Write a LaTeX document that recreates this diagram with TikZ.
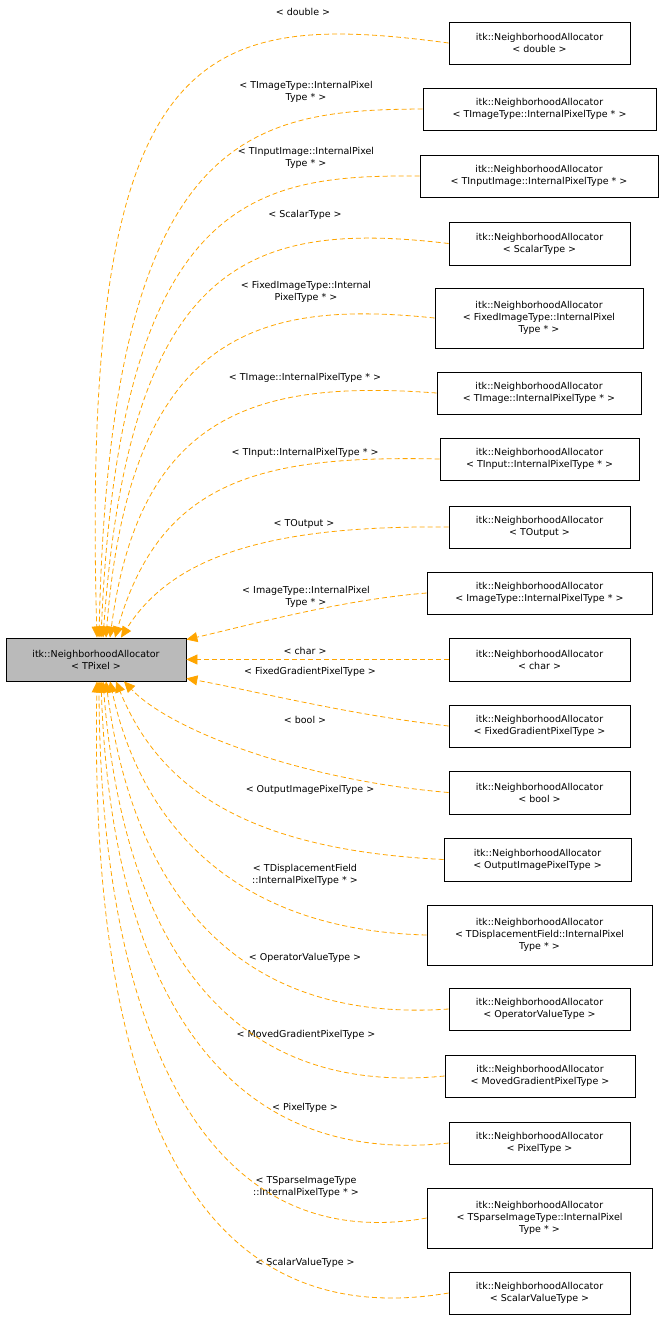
\documentclass[tikz,border=0pt]{standalone}
\usepackage{fontspec}
\setmainfont{DejaVu Sans}
\usetikzlibrary{arrows.meta}
\definecolor{edgeor}{RGB}{255,165,0}
\begin{document}
\begin{tikzpicture}[x=1pt,y=-1pt,
 box/.style={draw=black,line width=0.8pt,fill=white,align=center,inner sep=0pt,font=\fontsize{9.5}{12}\selectfont},
 lbl/.style={align=center,font=\fontsize{9.5}{12}\selectfont,inner sep=0pt},
 arr/.style={draw=edgeor,line width=0.8pt,dash pattern=on 5pt off 3pt,-{Triangle[length=11pt,width=10pt,fill=edgeor]}}]
\useasboundingbox (0,0) rectangle (664,1327);
\node[box,fill=black!27,minimum width=180pt,minimum height=43pt] (L) at (96,659.5) {itk::NeighborhoodAllocator\\< TPixel >};
\newcommand\rb[6]{\node[box,minimum width=#3pt,minimum height=#4pt] (#1) at (#2) {#5};}
\rb{r1}{539.5,43}{181}{42}{itk::NeighborhoodAllocator\\< double >}{}
\rb{r2}{539.5,109}{233}{42}{itk::NeighborhoodAllocator\\< TImageType::InternalPixelType * >}{}
\rb{r3}{539,176}{238}{42}{itk::NeighborhoodAllocator\\< TInputImage::InternalPixelType * >}{}
\rb{r4}{539.5,243.5}{181}{43}{itk::NeighborhoodAllocator\\< ScalarType >}{}
\rb{r5}{539,318}{208}{60}{itk::NeighborhoodAllocator\\< FixedImageType::InternalPixel\\Type * >}{}
\rb{r6}{539,393}{204}{42}{itk::NeighborhoodAllocator\\< TImage::InternalPixelType * >}{}
\rb{r7}{539.5,459}{199}{42}{itk::NeighborhoodAllocator\\< TInput::InternalPixelType * >}{}
\rb{r8}{539.5,527}{181}{42}{itk::NeighborhoodAllocator\\< TOutput >}{}
\rb{r9}{539.5,593}{225}{42}{itk::NeighborhoodAllocator\\< ImageType::InternalPixelType * >}{}
\rb{r10}{539.5,659.5}{181}{43}{itk::NeighborhoodAllocator\\< char >}{}
\rb{r11}{539.5,726}{181}{42}{itk::NeighborhoodAllocator\\< FixedGradientPixelType >}{}
\rb{r12}{539.5,792.5}{181}{43}{itk::NeighborhoodAllocator\\< bool >}{}
\rb{r13}{537.5,859.5}{187}{43}{itk::NeighborhoodAllocator\\< OutputImagePixelType >}{}
\rb{r14}{539.5,935}{225}{60}{itk::NeighborhoodAllocator\\< TDisplacementField::InternalPixel\\Type * >}{}
\rb{r15}{539.5,1009}{181}{42}{itk::NeighborhoodAllocator\\< OperatorValueType >}{}
\rb{r16}{540,1076}{190}{42}{itk::NeighborhoodAllocator\\< MovedGradientPixelType >}{}
\rb{r17}{539.5,1143}{181}{42}{itk::NeighborhoodAllocator\\< PixelType >}{}
\rb{r18}{539.5,1218}{225}{60}{itk::NeighborhoodAllocator\\< TSparseImageType::InternalPixel\\Type * >}{}
\rb{r19}{539.5,1293}{181}{42}{itk::NeighborhoodAllocator\\< ScalarValueType >}{}
% labels
\node[lbl] (l1) at (303,12) {< double >};
\node[lbl] (l2) at (306,92) {< TImageType::InternalPixel\\Type * >};
\node[lbl] (l3) at (306,158) {< TInputImage::InternalPixel\\Type * >};
\node[lbl] (l4) at (305,215) {< ScalarType >};
\node[lbl] (l5) at (306,292) {< FixedImageType::Internal\\PixelType * >};
\node[lbl] (l6) at (305,378) {< TImage::InternalPixelType * >};
\node[lbl] (l7) at (305,453) {< TInput::InternalPixelType * >};
\node[lbl] (l8) at (304,524) {< TOutput >};
\node[lbl] (l9) at (306,597) {< ImageType::InternalPixel\\Type * >};
\node[lbl] (l10) at (305,651) {< char >};
\node[lbl] (l11) at (310,672) {< FixedGradientPixelType >};
\node[lbl] (l12) at (305,720) {< bool >};
\node[lbl] (l13) at (310,790) {< OutputImagePixelType >};
\node[lbl] (l14) at (305,875) {< TDisplacementField\\::InternalPixelType * >};
\node[lbl] (l15) at (305,958) {< OperatorValueType >};
\node[lbl] (l16) at (306,1035) {< MovedGradientPixelType >};
\node[lbl] (l17) at (305,1108) {< PixelType >};
\node[lbl] (l18) at (306,1187) {< TSparseImageType\\::InternalPixelType * >};
\node[lbl] (l19) at (305,1263) {< ScalarValueType >};
% edges
\draw[arr] (r1.west) .. controls (200,10) and (80,40) .. ([xshift=1pt]L.north);
\draw[arr] (r2.west) .. controls (250,110) and (110,130) .. ([xshift=3pt]L.north);
\draw[arr] (r3.west) .. controls (260,175) and (120,190) .. ([xshift=5pt]L.north);
\draw[arr] (r4.west) .. controls (250,220) and (130,260) .. ([xshift=7pt]L.north);
\draw[arr] (r5.west) .. controls (260,300) and (130,330) .. ([xshift=10pt]L.north);
\draw[arr] (r6.west) .. controls (260,380) and (140,410) .. ([xshift=14pt]L.north);
\draw[arr] (r7.west) .. controls (260,455) and (160,480) .. ([xshift=19pt]L.north);
\draw[arr] (r8.west) .. controls (260,525) and (170,560) .. ([xshift=25pt]L.north);
\draw[arr] (r9.west) .. controls (340,600) and (250,625) .. ([yshift=-2pt]L.north east);
\draw[arr] (r10.west) -- (L.east);
\draw[arr] (r11.west) .. controls (350,715) and (250,690) .. ([yshift=3pt]L.south east);
\draw[arr] (r12.west) .. controls (300,780) and (170,730) .. ([xshift=28pt]L.south);
\draw[arr] (r13.west) .. controls (250,850) and (160,790) .. ([xshift=20pt]L.south);
\draw[arr] (r14.west) .. controls (230,930) and (140,820) .. ([xshift=14pt]L.south);
\draw[arr] (r15.west) .. controls (220,1025) and (130,870) .. ([xshift=10pt]L.south);
\draw[arr] (r16.west) .. controls (200,1100) and (120,900) .. ([xshift=7pt]L.south);
\draw[arr] (r17.west) .. controls (200,1170) and (110,950) .. ([xshift=5pt]L.south);
\draw[arr] (r18.west) .. controls (190,1260) and (100,1000) .. ([xshift=3pt]L.south);
\draw[arr] (r19.west) .. controls (170,1340) and (90,1050) .. ([xshift=1pt]L.south);
\end{tikzpicture}
\end{document}
